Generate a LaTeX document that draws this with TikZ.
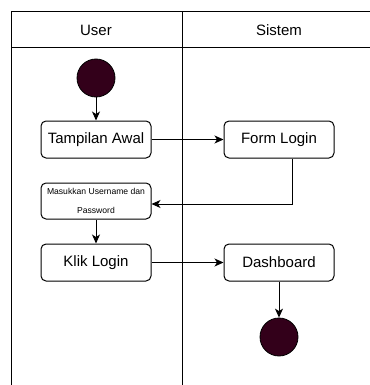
\documentclass[tikz,border=0pt]{standalone}
\usepackage{fontspec}
\setmainfont{Liberation Sans}
\usetikzlibrary{arrows.meta}
\definecolor{nodefill}{HTML}{33001A}
\tikzset{
  lane/.style={draw=black, line width=1pt},
  act/.style={draw=black, line width=1pt, rounded corners=5pt, fill=white,
    minimum width=110pt, minimum height=37pt, inner sep=0pt, align=center,
    font=\fontsize{15}{18}\selectfont},
  smallact/.style={act, minimum height=36pt, font=\fontsize{8.6}{19}\selectfont},
  dot/.style={circle, draw=black, line width=0.8pt, fill=nodefill,
    minimum size=38pt, inner sep=0pt},
  flow/.style={draw=black, line width=1pt, -{Stealth[length=9pt,width=8pt,inset=2.5pt]}},
  hdr/.style={font=\fontsize{15}{18}\selectfont, inner sep=0pt}
}
\begin{document}
\begin{tikzpicture}[x=1pt, y=-1pt]
\useasboundingbox (0,0) rectangle (369,385);
% swimlane frame
\draw[lane] (11,385) -- (11,12) -- (375,12);
\draw[lane] (11,48) -- (375,48);
\draw[lane] (182,12) -- (182,385);
\node[hdr] (huser) at (96,30) {User};
\node[hdr] (hsys) at (279,30) {Sistem};
% activities
\node[dot] (start) at (96,78) {};
\node[act] (awal) at (96,139.5) {Tampilan Awal};
\node[act] (form) at (279,139.5) {Form Login};
\node[smallact] (masuk) at (96,201) {Masukkan Username dan\\Password};
\node[act] (klik) at (96,262.5) {Klik Login};
\node[act] (dash) at (279,262.5) {Dashboard};
\node[dot] (stop) at (279,337) {};
% control flow
\draw[flow] (start) -- (awal);
\draw[flow] (awal) -- (form);
\draw[flow] ([xshift=13pt]form.south) |- (masuk.east |- 0,204);
\draw[flow] (masuk) -- (klik);
\draw[flow] (klik) -- (dash);
\draw[flow] (dash) -- (stop);
\end{tikzpicture}
\end{document}
